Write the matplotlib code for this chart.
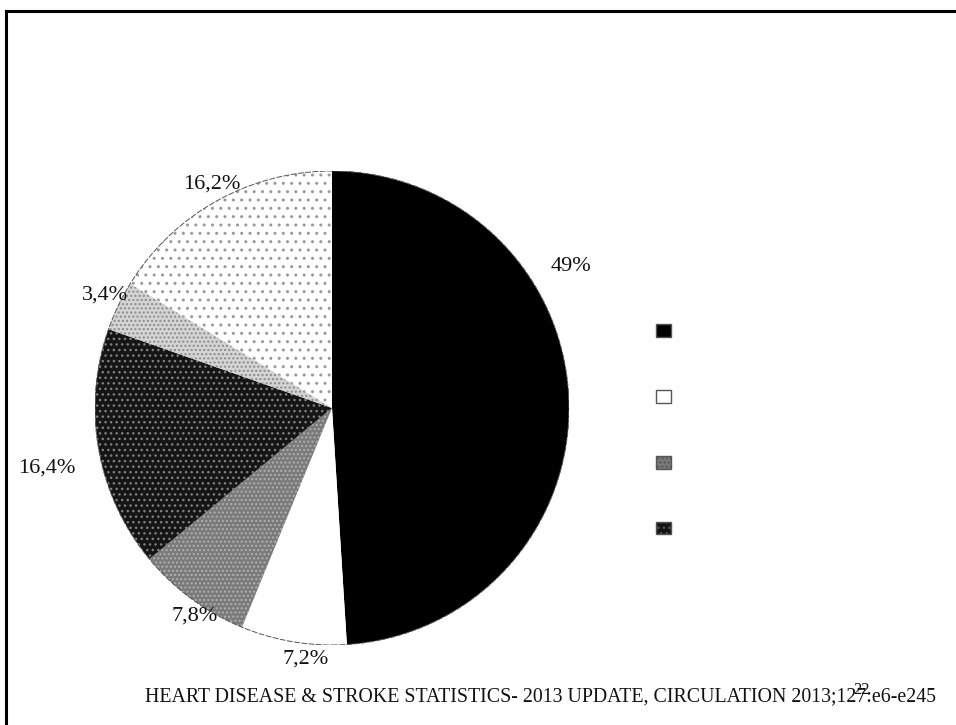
import matplotlib
matplotlib.use("Agg")
import matplotlib.pyplot as plt
from matplotlib.lines import Line2D
from matplotlib.patches import Circle, Rectangle

W, H = 956, 725
DPI = 100

# ---- data ----
values = [49.0, 7.2, 7.8, 16.4, 3.4, 16.2]
value_labels = ["49%", "7,2%", "7,8%", "16,4%", "3,4%", "16,2%"]
legend_count = 4
source = "HEART DISEASE & STROKE STATISTICS- 2013 UPDATE, CIRCULATION 2013;127:e6-e245"
slide_no = "22"

# ---- styles ----
face_colors = ["#000000", "#ffffff", "#7a7a7a", "#151515", "#d4d4d4", "#ffffff"]
hatch_colors = ["#000000", "#ffffff", "#b0b0b0", "#808080", "#8a8a8a", "#999999"]
hatches = [None, None, "....", "...", "....", ".."]
label_px = [(571, 267), (306, 659), (195, 616), (47, 468), (105, 295), (212, 184)]

plt.rcParams["hatch.linewidth"] = 1.0
serif = ["Liberation Serif", "DejaVu Serif"]

fig = plt.figure(figsize=(W / DPI, H / DPI), dpi=DPI)
fig.patch.set_facecolor("white")

# pie axes
cx, cy, r = 332, 408, 237
ax = fig.add_axes([(cx - r) / W, 1 - (cy + r) / H, 2 * r / W, 2 * r / H])
wedges, _ = ax.pie(values, startangle=90, counterclock=False, radius=1.0,
                   colors=face_colors,
                   wedgeprops=dict(linewidth=0))
for w, hc, h in zip(wedges, hatch_colors, hatches):
    w.set_edgecolor(hc)
    w.set_linewidth(0)
    if h:
        w.set_hatch(h)
ax.add_patch(Circle((0, 0), 1.0, fill=False, edgecolor="#555555", linewidth=0.7,
                    linestyle=(0, (6, 1.5))))
ax.set_xlim(-1, 1)
ax.set_ylim(-1, 1)
ax.set_aspect("equal")
ax.axis("off")

for txt, (px, py) in zip(value_labels, label_px):
    fig.text(px / W, 1 - py / H, txt, ha="center", va="center",
             fontsize=16, family=serif, color="#111111")

# legend: squares only, no text
handles = []
for i in range(legend_count):
    p = Rectangle((0, 0), 1, 1, facecolor=face_colors[i],
                  edgecolor="#555555", linewidth=1.0, hatch=hatches[i])
    handles.append(p)
leg = fig.legend(handles, [""] * legend_count, loc="upper left",
                 bbox_to_anchor=(656 / W, 1 - 324 / H), frameon=False,
                 fontsize=10, handlelength=1.05, handleheight=1.05,
                 labelspacing=3.72, borderpad=0, borderaxespad=0,
                 handletextpad=0.2)

# footer
fig.text(145 / W, 1 - 697 / H, source, ha="left", va="center",
         fontsize=14.3, family=serif, color="#111111")
fig.text(862 / W, 1 - 690 / H, slide_no, ha="center", va="center",
         fontsize=12, family=serif, color="#111111")

# slide frame (top and left edges)
fig.add_artist(Line2D([6 / W, 6 / W], [0, 1 - 11 / H], transform=fig.transFigure,
                      color="black", linewidth=2.2))
fig.add_artist(Line2D([6 / W, 1], [1 - 11 / H, 1 - 11 / H], transform=fig.transFigure,
                      color="black", linewidth=2.2, solid_capstyle="projecting"))

fig.savefig("out.png", dpi=DPI, facecolor="white")
